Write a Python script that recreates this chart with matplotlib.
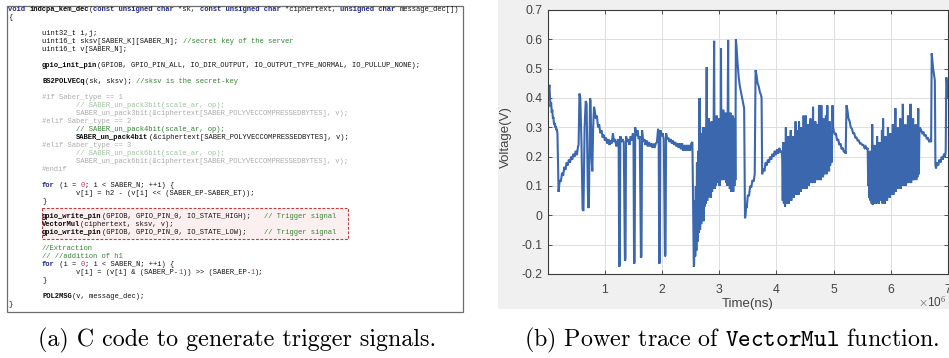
import matplotlib
matplotlib.use("Agg")
import matplotlib.pyplot as plt
from matplotlib.patches import Rectangle
import numpy as np

plt.rcParams["axes.unicode_minus"] = False
plt.rcParams["mathtext.fontset"] = "cm"

# ---------------- code listing (panel a) ----------------
CODE_LINES = [
    (0, [("k", "void "), ("f", "indcpa_kem_dec"), ("n", "("), ("k", "const unsigned char "), ("n", "*sk, "),
         ("k", "const unsigned char "), ("n", "*ciphertext, "), ("k", "unsigned char "), ("n", "message_dec[])")]),
    (0, [("n", "{")]),
    (0, []),
    (1, [("n", "uint32_t i,j;")]),
    (1, [("n", "uint16_t sksv[SABER_K][SABER_N]; "), ("c", "//secret key of the server")]),
    (1, [("n", "uint16_t v[SABER_N];")]),
    (0, []),
    (1, [("f", "gpio_init_pin"), ("n", "(GPIOB, GPIO_PIN_ALL, IO_DIR_OUTPUT, IO_OUTPUT_TYPE_NORMAL, IO_PULLUP_NONE);")]),
    (0, []),
    (1, [("f", "BS2POLVECq"), ("n", "(sk, sksv); "), ("c", "//sksv is the secret-key")]),
    (0, []),
    (1, [("g", "#if Saber_type == 1")]),
    (2, [("gc", "// SABER_un_pack3bit(scale_ar, op);")]),
    (2, [("g", "SABER_un_pack3bit(&ciphertext[SABER_POLYVECCOMPRESSEDBYTES], v);")]),
    (1, [("g", "#elif Saber_type == 2")]),
    (2, [("c", "// SABER_un_pack4bit(scale_ar, op);")]),
    (2, [("f", "SABER_un_pack4bit"), ("n", "(&ciphertext[SABER_POLYVECCOMPRESSEDBYTES], v);")]),
    (1, [("g", "#elif Saber_type == 3")]),
    (2, [("gc", "// SABER_un_pack6bit(scale_ar, op);")]),
    (2, [("g", "SABER_un_pack6bit(&ciphertext[SABER_POLYVECCOMPRESSEDBYTES], v);")]),
    (1, [("g", "#endif")]),
    (0, []),
    (1, [("k", "for"), ("n", " (i = "), ("r", "0"), ("n", "; i < SABER_N; ++i) {")]),
    (2, [("n", "v[i] = h2 - (v[i] << (SABER_EP-SABER_ET));")]),
    (1, [("n", "}")]),
    (0, []),
    (1, [("f", "gpio_write_pin"), ("n", "(GPIOB, GPIO_PIN_0, IO_STATE_HIGH);   "), ("c", "// Trigger signal")]),
    (1, [("f", "VectorMul"), ("n", "(ciphertext, sksv, v);")]),
    (1, [("f", "gpio_write_pin"), ("n", "(GPIOB, GPIO_PIN_0, IO_STATE_LOW);    "), ("c", "// Trigger signal")]),
    (0, []),
    (1, [("c", "//Extraction")]),
    (1, [("c", "// //addition of h1")]),
    (1, [("k", "for"), ("n", " (i = "), ("r", "0"), ("n", "; i < SABER_N; ++i) {")]),
    (2, [("n", "v[i] = (v[i] & (SABER_P-"), ("r", "1"), ("n", ")) >> (SABER_EP-"), ("r", "1"), ("n", ");")]),
    (1, [("n", "}")]),
    (0, []),
    (1, [("f", "POL2MSG"), ("n", "(v, message_dec);")]),
    (0, [("n", "}")]),
]

STYLES = {
    "n": dict(color="#141414"),
    "k": dict(color="#262b8a", fontweight="bold"),
    "f": dict(color="#0a0a0a", fontweight="bold"),
    "c": dict(color="#348434"),
    "g": dict(color="#ababab"),
    "gc": dict(color="#a2c0a2"),
    "r": dict(color="#d0305a"),
}

# ---------------- power trace (panel b) ----------------
# (time in 1e6 ns, voltage in V)
seg_start = [(0.01, 0.44), (0.02, 0.43), (0.03, 0.445), (0.04, 0.40), (0.05, 0.37), (0.06, 0.385),
             (0.07, 0.35), (0.08, 0.36), (0.09, 0.33), (0.10, 0.335), (0.11, 0.31), (0.12, 0.315),
             (0.13, 0.30), (0.14, 0.305), (0.15, 0.29), (0.16, 0.295), (0.17, 0.28), (0.18, 0.18),
             (0.19, 0.08)]
seg_rise1 = [(0.20, 0.10), (0.21, 0.12), (0.23, 0.115), (0.25, 0.145), (0.27, 0.135), (0.29, 0.165),
             (0.31, 0.155), (0.33, 0.18), (0.35, 0.17), (0.37, 0.19), (0.39, 0.18), (0.41, 0.20),
             (0.43, 0.19), (0.45, 0.21), (0.47, 0.20), (0.49, 0.22), (0.51, 0.205), (0.53, 0.235),
             (0.54, 0.24)]
seg_spk1 = [(0.555, 0.415), (0.57, 0.40), (0.59, 0.25), (0.61, 0.02), (0.625, 0.015), (0.645, 0.30),
            (0.665, 0.39), (0.68, 0.38), (0.70, 0.10), (0.71, 0.025), (0.72, 0.03), (0.74, 0.40),
            (0.75, 0.39), (0.765, 0.20), (0.78, 0.15), (0.795, 0.30), (0.81, 0.37), (0.82, 0.36)]
seg_decay1 = [(0.84, 0.33), (0.86, 0.34), (0.88, 0.30), (0.90, 0.31), (0.92, 0.28), (0.94, 0.29),
              (0.96, 0.265), (0.98, 0.275), (1.00, 0.255), (1.02, 0.265), (1.04, 0.245), (1.06, 0.26),
              (1.08, 0.24), (1.10, 0.255), (1.12, 0.245), (1.14, 0.28), (1.16, 0.25), (1.18, 0.26),
              (1.20, 0.235), (1.22, 0.25)]
seg_dips = [(1.24, 0.26), (1.25, -0.175), (1.26, -0.17), (1.27, 0.27), (1.29, 0.25), (1.31, 0.26),
            (1.33, 0.25), (1.35, -0.155), (1.36, -0.15), (1.37, 0.27), (1.39, 0.25), (1.41, 0.26),
            (1.43, 0.24), (1.45, 0.27), (1.47, 0.255), (1.49, 0.28), (1.50, 0.26), (1.51, -0.165),
            (1.52, -0.16), (1.53, 0.30), (1.55, 0.27), (1.57, 0.29), (1.59, 0.26), (1.61, 0.27),
            (1.63, -0.145), (1.64, -0.14), (1.65, 0.29), (1.67, 0.25), (1.69, 0.26), (1.71, 0.24),
            (1.73, 0.255), (1.75, 0.235), (1.77, 0.25), (1.79, 0.235), (1.81, 0.245), (1.83, 0.23),
            (1.85, 0.245), (1.87, 0.23), (1.89, 0.245), (1.91, 0.25), (1.93, 0.295), (1.94, 0.28),
            (1.95, -0.165), (1.96, -0.16), (1.97, 0.29), (1.99, 0.27), (2.01, 0.28), (2.03, 0.26),
            (2.05, -0.14), (2.06, -0.135), (2.07, 0.28), (2.09, 0.26)]
seg_flat = [(2.11, 0.265), (2.13, 0.25), (2.15, 0.26), (2.17, 0.245), (2.19, 0.255), (2.21, 0.24),
            (2.23, 0.25), (2.25, 0.235), (2.27, 0.245), (2.29, 0.23), (2.31, 0.245), (2.33, 0.225),
            (2.35, 0.245), (2.37, 0.22), (2.39, 0.24), (2.41, 0.22), (2.43, 0.24), (2.45, 0.22),
            (2.47, 0.24), (2.49, 0.22), (2.51, 0.245), (2.53, 0.25), (2.545, 0.0), (2.555, -0.175)]
seg_dense1 = [(2.56, -0.17), (2.57, 0.05), (2.58, -0.14), (2.59, 0.10), (2.60, -0.12), (2.61, 0.18),
              (2.62, -0.09), (2.635, 0.22), (2.645, -0.06), (2.655, 0.40), (2.665, -0.05), (2.675, 0.25),
              (2.685, -0.03), (2.695, 0.28), (2.705, 0.0), (2.715, 0.30), (2.725, -0.02), (2.735, 0.26),
              (2.745, 0.03), (2.755, 0.30), (2.765, 0.04), (2.78, 0.505), (2.79, 0.05), (2.80, 0.27),
              (2.81, 0.06), (2.82, 0.33), (2.83, 0.07), (2.845, 0.29), (2.855, 0.06), (2.865, 0.32),
              (2.875, 0.08), (2.885, 0.28), (2.895, 0.09), (2.91, 0.595), (2.92, 0.09), (2.93, 0.30),
              (2.94, 0.10), (2.955, 0.34), (2.965, 0.11), (2.975, 0.28), (2.985, 0.12), (2.995, 0.33),
              (3.005, 0.10), (3.015, 0.30), (3.022, 0.12), (3.03, 0.57), (3.04, 0.12), (3.05, 0.31),
              (3.06, 0.14), (3.07, 0.36), (3.08, 0.12), (3.09, 0.30), (3.10, 0.13), (3.11, 0.35),
              (3.12, 0.11), (3.13, 0.31), (3.14, 0.10), (3.155, 0.598), (3.165, 0.10), (3.175, 0.32),
              (3.185, 0.09), (3.195, 0.35), (3.205, 0.08), (3.215, 0.30), (3.225, 0.09), (3.235, 0.34),
              (3.245, 0.08), (3.255, 0.31), (3.265, 0.10), (3.275, 0.33), (3.282, 0.12), (3.29, 0.60)]
seg_decay2 = [(3.30, 0.58), (3.32, 0.52), (3.34, 0.47), (3.36, 0.44), (3.38, 0.42), (3.40, 0.40),
              (3.42, 0.38), (3.435, 0.365), (3.45, -0.01)]
seg_rise2 = [(3.46, 0.0), (3.47, 0.03), (3.48, 0.025), (3.50, 0.07), (3.52, 0.065), (3.54, 0.10),
             (3.56, 0.095), (3.58, 0.12), (3.60, 0.115), (3.62, 0.14), (3.635, 0.495), (3.65, 0.48),
             (3.67, 0.45), (3.69, 0.44), (3.71, 0.42), (3.73, 0.41), (3.74, 0.40), (3.75, 0.14)]
seg_rise3 = [(3.77, 0.16), (3.79, 0.15), (3.81, 0.18), (3.83, 0.17), (3.85, 0.19), (3.87, 0.18),
             (3.89, 0.20), (3.91, 0.19), (3.93, 0.21), (3.95, 0.20), (3.97, 0.22), (3.99, 0.205),
             (4.01, 0.225), (4.03, 0.21), (4.05, 0.23), (4.07, 0.215), (4.09, 0.22)]
seg_dense2 = [(4.10, 0.20), (4.11, 0.05), (4.12, 0.25), (4.13, 0.04), (4.14, 0.22), (4.15, 0.03),
              (4.165, 0.30), (4.175, 0.04), (4.185, 0.24), (4.195, 0.05), (4.205, 0.27), (4.215, 0.04),
              (4.225, 0.22), (4.235, 0.06), (4.25, 0.29), (4.26, 0.05), (4.27, 0.24), (4.28, 0.07),
              (4.29, 0.27), (4.30, 0.06), (4.31, 0.25), (4.32, 0.08), (4.335, 0.32), (4.345, 0.07),
              (4.355, 0.26), (4.365, 0.08), (4.375, 0.29), (4.385, 0.07), (4.395, 0.32), (4.405, 0.09),
              (4.415, 0.26), (4.425, 0.08), (4.435, 0.30), (4.445, 0.09), (4.455, 0.27), (4.465, 0.10),
              (4.475, 0.34), (4.485, 0.09), (4.495, 0.28), (4.505, 0.10), (4.515, 0.34), (4.525, 0.09),
              (4.535, 0.27), (4.545, 0.11), (4.555, 0.31), (4.565, 0.10), (4.575, 0.28), (4.585, 0.11),
              (4.595, 0.33), (4.605, 0.12), (4.615, 0.28), (4.625, 0.11), (4.64, 0.37), (4.65, 0.12),
              (4.66, 0.29), (4.67, 0.11), (4.68, 0.32), (4.69, 0.12), (4.70, 0.27), (4.71, 0.13),
              (4.72, 0.31), (4.73, 0.12), (4.745, 0.375), (4.755, 0.13), (4.765, 0.29), (4.775, 0.12),
              (4.785, 0.375), (4.795, 0.14), (4.805, 0.30), (4.815, 0.13), (4.825, 0.33), (4.835, 0.14),
              (4.845, 0.29), (4.855, 0.15), (4.865, 0.34), (4.875, 0.14), (4.89, 0.375), (4.90, 0.16),
              (4.91, 0.30), (4.92, 0.15), (4.93, 0.32), (4.94, 0.17), (4.955, 0.29), (4.965, 0.18),
              (4.98, 0.375), (4.99, 0.30)]
seg_decay3 = [(5.00, 0.29), (5.02, 0.275), (5.04, 0.28), (5.06, 0.255), (5.08, 0.26), (5.10, 0.24),
              (5.12, 0.245), (5.14, 0.225), (5.16, 0.23), (5.18, 0.215), (5.20, 0.22), (5.21, 0.21),
              (5.225, 0.375), (5.24, 0.36), (5.26, 0.33), (5.28, 0.32), (5.30, 0.30), (5.32, 0.295),
              (5.34, 0.28), (5.36, 0.28), (5.38, 0.265), (5.40, 0.265), (5.42, 0.255), (5.44, 0.255),
              (5.46, 0.245), (5.48, 0.245), (5.50, 0.24), (5.52, 0.24), (5.54, 0.23), (5.56, 0.235),
              (5.58, 0.225), (5.595, 0.23), (5.605, 0.10)]
seg_dense3 = [(5.615, 0.20), (5.625, 0.06), (5.635, 0.22), (5.645, 0.05), (5.655, 0.19), (5.665, 0.04),
              (5.675, 0.31), (5.685, 0.035), (5.695, 0.20), (5.705, 0.04), (5.715, 0.24), (5.725, 0.05),
              (5.735, 0.19), (5.745, 0.04), (5.76, 0.27), (5.77, 0.05), (5.78, 0.20), (5.79, 0.04),
              (5.80, 0.25), (5.81, 0.06), (5.82, 0.21), (5.83, 0.05), (5.845, 0.29), (5.855, 0.04),
              (5.865, 0.33), (5.875, 0.05), (5.885, 0.22), (5.895, 0.04), (5.905, 0.27), (5.915, 0.06),
              (5.925, 0.21), (5.935, 0.05), (5.95, 0.30), (5.96, 0.07), (5.97, 0.23), (5.98, 0.06),
              (5.99, 0.28), (6.00, 0.07), (6.01, 0.22), (6.02, 0.08), (6.035, 0.31), (6.045, 0.07),
              (6.055, 0.24), (6.065, 0.08), (6.08, 0.365), (6.09, 0.08), (6.10, 0.24), (6.11, 0.09),
              (6.12, 0.30), (6.13, 0.09), (6.14, 0.23), (6.15, 0.10), (6.165, 0.33), (6.175, 0.09),
              (6.185, 0.25), (6.195, 0.10), (6.21, 0.38), (6.22, 0.10), (6.23, 0.26), (6.24, 0.11),
              (6.255, 0.31), (6.265, 0.10), (6.275, 0.25), (6.285, 0.11), (6.30, 0.34), (6.31, 0.11),
              (6.32, 0.25), (6.33, 0.12), (6.345, 0.38), (6.355, 0.11), (6.365, 0.26), (6.375, 0.12),
              (6.39, 0.33), (6.40, 0.12), (6.41, 0.27), (6.42, 0.13), (6.435, 0.31), (6.445, 0.12),
              (6.455, 0.26), (6.465, 0.13), (6.48, 0.365), (6.49, 0.14), (6.50, 0.28), (6.51, 0.30)]
seg_end = [(6.53, 0.29), (6.55, 0.28), (6.57, 0.285), (6.59, 0.27), (6.61, 0.275), (6.63, 0.26),
           (6.65, 0.265), (6.67, 0.25), (6.69, 0.255), (6.705, 0.25), (6.715, 0.552), (6.725, 0.53),
           (6.74, 0.50), (6.755, 0.48), (6.77, 0.46), (6.78, 0.17), (6.79, 0.16), (6.81, 0.18),
           (6.83, 0.17), (6.85, 0.19), (6.87, 0.18), (6.89, 0.20), (6.91, 0.19), (6.93, 0.21),
           (6.95, 0.20), (6.96, 0.22), (6.97, 0.47), (6.985, 0.45), (7.0, 0.40)]

TRACE_SEGMENTS = [seg_start, seg_rise1, seg_spk1, seg_decay1, seg_dips, seg_flat, seg_dense1,
                  seg_decay2, seg_rise2, seg_rise3, seg_dense2, seg_decay3, seg_dense3, seg_end]

X_TICKS = [1, 2, 3, 4, 5, 6, 7]
Y_TICKS = [-0.2, -0.1, 0, 0.1, 0.2, 0.3, 0.4, 0.5, 0.6, 0.7]
Y_TICK_LABELS = ["-0.2", "-0.1", "0", "0.1", "0.2", "0.3", "0.4", "0.5", "0.6", "0.7"]

CAPTION_A = "(a) C code to generate trigger signals."
CAPTION_B = r"(b) Power trace of $\mathtt{VectorMul}$ function."

# ---------------- figure ----------------
W, H = 949, 358
fig = plt.figure(figsize=(W / 100, H / 100), dpi=100)
bg = fig.add_axes([0, 0, 1, 1])
bg.set_xlim(0, W)
bg.set_ylim(H, 0)
bg.axis("off")

# grey MATLAB panel
bg.add_patch(Rectangle((498, 0), W - 498, 309, facecolor="#f0f0f0", edgecolor="none", zorder=0))

# code box
bg.add_patch(Rectangle((7, 6), 456, 306, facecolor="white", edgecolor="#6e6e6e", lw=0.9, zorder=1))
bg.add_patch(Rectangle((42, 208), 306, 31, facecolor="#fcefef", edgecolor="#c23b3b", lw=0.8,
                       linestyle=(0, (2.5, 1.5)), zorder=2))

CW = 4.26
x0, y0, pitch = 8, 9.5, 7.98
for i, (indent, segs) in enumerate(CODE_LINES):
    col = indent * 8
    y = y0 + i * pitch
    for style, txt in segs:
        bg.text(x0 + col * CW, y, txt, fontsize=5.1, family="Liberation Mono", ha="left",
                va="center", zorder=3, **STYLES[style])
        col += len(txt)

# trace axes
ax = fig.add_axes([548 / W, 1 - 274 / H, 400 / W, 264 / H])
tt = [p[0] for s in TRACE_SEGMENTS for p in s]
vv = [p[1] for s in TRACE_SEGMENTS for p in s]
ax.plot(np.array(tt) * 1e6, vv, color="#3b67ae", lw=1.5, solid_joinstyle="miter")
ax.set_xlim(0.005e6, 7e6)
ax.set_ylim(-0.2, 0.7)
ax.set_xticks([x * 1e6 for x in X_TICKS])
ax.set_xticklabels([str(x) for x in X_TICKS])
ax.set_yticks(Y_TICKS)
ax.set_yticklabels(Y_TICK_LABELS)
ax.grid(True, color="#dedede", lw=0.7)
ax.set_axisbelow(True)
for sp in ax.spines.values():
    sp.set_color("#3a3a3a")
    sp.set_linewidth(0.8)
ax.tick_params(direction="in", length=3, width=0.6, color="#3a3a3a", top=True, right=True,
               labelsize=8.8, labelcolor="#444444")
ax.tick_params(axis="x", pad=7)
ax.tick_params(axis="y", pad=4)
for lab in ax.get_xticklabels() + ax.get_yticklabels():
    lab.set_family("Liberation Sans")
ax.set_ylabel("Voltage(V)", family="Liberation Sans", fontsize=9.5, color="#444444")
ax.yaxis.set_label_coords(-0.09, 0.52)
ax.set_xlabel("Time(ns)", family="Liberation Sans", fontsize=9.5, color="#444444")
ax.xaxis.set_label_coords(0.5, -0.09)
bg.text(947, 302, r"$\times$10$^6$", family="Liberation Sans", fontsize=8.5, color="#444444",
        ha="right", va="center")

# captions
bg.text(237, 340, CAPTION_A, family="cmr10", fontsize=17.3, ha="center", va="center", color="black")
bg.text(732, 340, CAPTION_B, family="cmr10", fontsize=17.3, ha="center", va="center", color="black")

fig.savefig("out.png", dpi=100)
